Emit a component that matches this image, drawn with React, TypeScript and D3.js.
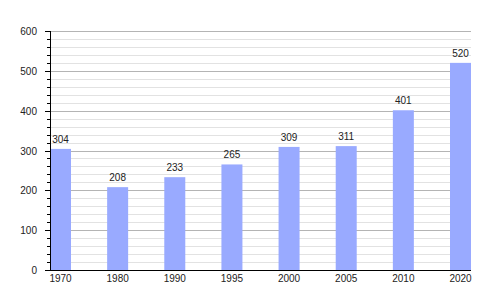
import React from "react";
import * as d3 from "d3";

const years = ["1970", "1980", "1990", "1995", "2000", "2005", "2010", "2020"];
const population = [304, 208, 233, 265, 309, 311, 401, 520];
const majorTicks = [0, 100, 200, 300, 400, 500, 600];

export default function App() {
  const W = 500, H = 300;
  const left = 50, right = 471, top = 31, bottom = 270;
  const x = d3.scaleBand<string>().domain(years).range([left, right]).paddingInner(0.6325).paddingOuter(0);
  const y = d3.scaleLinear().domain([0, 600]).range([bottom, top]);
  const minorTicks = d3.range(0, 601, 20).filter((v) => v % 100 !== 0);
  const font = "Liberation Sans, Arial, sans-serif";
  return (
    <svg width={W} height={H} style={{ position: "absolute", left: 0, top: 0 }} fontFamily={font}>
      <rect width={W} height={H} fill="#fff" />
      {minorTicks.map((v) => (
        <g key={"m" + v}>
          <line x1={left} x2={right} y1={Math.round(y(v)) + 0.5} y2={Math.round(y(v)) + 0.5} stroke="#e2e2e2" />
          <line x1={left - 3} x2={left} y1={Math.round(y(v)) + 0.5} y2={Math.round(y(v)) + 0.5} stroke="#000" />
        </g>
      ))}
      {majorTicks.map((v) => (
        <g key={"M" + v}>
          {v > 0 && <line x1={left} x2={right} y1={Math.round(y(v)) + 0.5} y2={Math.round(y(v)) + 0.5} stroke="#b4b4b4" />}
          <line x1={left - 5} x2={left} y1={Math.round(y(v)) + 0.5} y2={Math.round(y(v)) + 0.5} stroke="#000" />
          <text x={37} y={y(v) + 4} textAnchor="end" fontSize={10} fill="#222">{v}</text>
        </g>
      ))}
      {years.map((yr, i) => (
        <g key={yr}>
          <rect x={x(yr)!} y={y(population[i])} width={x.bandwidth()} height={bottom - y(population[i])} fill="#99aaff" />
          <text x={x(yr)! + x.bandwidth() / 2} y={y(population[i]) - 6} textAnchor="middle" fontSize={10} fill="#222">{population[i]}</text>
          <text x={x(yr)! + x.bandwidth() / 2} y={bottom + 12} textAnchor="middle" fontSize={10} fill="#222">{yr}</text>
        </g>
      ))}
      <line x1={left + 0.5} x2={left + 0.5} y1={top} y2={bottom + 1} stroke="#000" />
      <line x1={left} x2={right} y1={bottom + 0.5} y2={bottom + 0.5} stroke="#000" />
    </svg>
  );
}
